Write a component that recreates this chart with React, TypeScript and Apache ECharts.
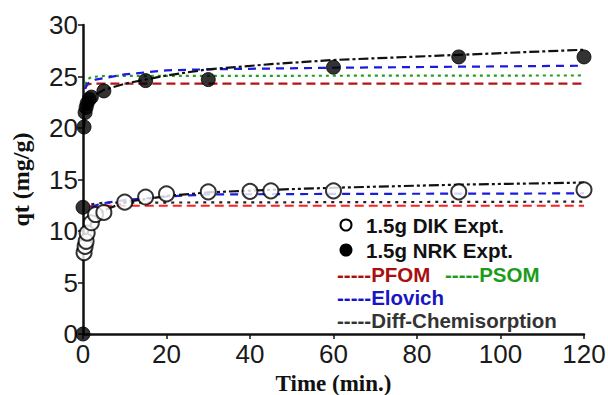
import React, { useEffect, useRef } from "react";
import * as echarts from "echarts";

const xTicks = [0, 20, 40, 60, 80, 100, 120];
const yTicks = [0, 5, 10, 15, 20, 25, 30];

// Experimental points [time (min), qt (mg/g)]
const dikExpt: number[][] = [
  [0.25, 7.9], [0.5, 8.5], [0.75, 9.0], [1, 9.8], [2, 10.8], [3, 11.6], [5, 11.8],
  [10, 12.8], [15, 13.3], [20, 13.6], [30, 13.8], [40, 13.85], [45, 13.9],
  [60, 13.9], [90, 13.8], [120, 14.0],
];
const nrkExpt: number[][] = [
  [0, 0], [0, 12.3], [0.25, 20.1], [0.5, 21.5], [0.75, 22.0], [1, 22.4], [1.5, 22.8],
  [2, 23.0], [5, 23.6], [15, 24.6], [30, 24.7], [60, 25.9], [90, 26.9], [120, 26.9],
];

// Model fits
const nrkPFOM: number[][] = [[0.5, 23.8], [1, 24.2], [2, 24.3], [120, 24.3]];
const nrkPSOM: number[][] = [[0.5, 24.2], [1, 24.7], [2, 24.95], [5, 25.05], [120, 25.1]];
const nrkElovich: number[][] = [
  [0.5, 23.8], [1, 24.3], [3, 24.7], [10, 25.2], [20, 25.6], [30, 25.7],
  [60, 25.85], [90, 25.95], [120, 26.05],
];
const nrkDiff: number[][] = [
  [0.25, 20.0], [0.5, 21.6], [1, 22.4], [2, 23.0], [5, 23.7], [10, 24.3], [20, 25.1],
  [30, 25.7], [45, 26.2], [60, 26.6], [90, 27.1], [120, 27.6],
];
const dikPFOM: number[][] = [[1.5, 12.3], [2, 12.45], [120, 12.45]];
const dikPSOM: number[][] = [[2, 12.6], [5, 12.75], [120, 12.85]];
const dikElovich: number[][] = [
  [2, 12.3], [4, 12.65], [10, 13.0], [20, 13.35], [30, 13.55], [60, 13.6], [120, 13.65],
];
const dikDiff: number[][] = [
  [0.25, 8.0], [0.5, 8.8], [1, 9.7], [2, 10.8], [3, 11.4], [5, 12.0], [10, 12.8],
  [20, 13.4], [30, 13.75], [45, 14.0], [60, 14.2], [90, 14.5], [120, 14.7],
];

const legendFont = "bold 20.5px 'Liberation Sans', Arial, sans-serif";
const tickFont = "'Liberation Sans', Arial, sans-serif";
const titleFont = "'Liberation Serif', 'Times New Roman', serif";

export default function App() {
  const ref = useRef<HTMLDivElement>(null);
  useEffect(() => {
    if (!ref.current) return;
    const chart = echarts.init(ref.current, null, { renderer: "svg" });
    const line = (data: number[][], color: string, dash: number[], width = 2.2, z = 2) => ({
      type: "line",
      data,
      showSymbol: false,
      symbol: "none",
      smooth: false,
      z,
      lineStyle: { color, width, type: dash },
      silent: true,
    });
    chart.setOption({
      animation: false,
      grid: { left: 83, right: 24, top: 25, bottom: 61, containLabel: false, outerBoundsMode: "none" },
      xAxis: {
        type: "value",
        min: 0,
        max: 120,
        interval: 20,
        name: "Time (min.)",
        nameLocation: "middle",
        nameGap: 33,
        nameTextStyle: { fontFamily: titleFont, fontWeight: "bold", fontSize: 23, color: "#111" },
        axisLine: { lineStyle: { color: "#111", width: 2.5 } },
        axisTick: { show: true, length: 5, lineStyle: { color: "#111", width: 1.5 } },
        axisLabel: { fontFamily: tickFont, fontSize: 26, color: "#1a1a1a", margin: 7 },
        splitLine: { show: false },
      },
      yAxis: {
        type: "value",
        min: 0,
        max: 30,
        interval: 5,
        name: "qt (mg/g)",
        nameLocation: "middle",
        nameGap: 50,
        nameTextStyle: { fontFamily: titleFont, fontWeight: "bold", fontSize: 24, color: "#111" },
        axisLine: { lineStyle: { color: "#111", width: 2.5 } },
        axisTick: { show: true, length: 5, lineStyle: { color: "#111", width: 1.5 } },
        axisLabel: { fontFamily: tickFont, fontSize: 26, color: "#1a1a1a", margin: 5 },
        splitLine: { show: false },
      },
      series: [
        line(nrkPFOM, "#b41414", [9, 5]),
        line(nrkPSOM, "#22a022", [3, 4]),
        line(nrkElovich, "#1a1ae0", [8, 6]),
        line(nrkDiff, "#111", [10, 3, 3, 3]),
        line(dikPFOM, "#ff2020", [9, 5]),
        line(dikPSOM, "#222", [3, 5]),
        line(dikElovich, "#1a1ae0", [8, 6]),
        line(dikDiff, "#111", [10, 3, 3, 3, 3, 3]),
        {
          type: "scatter",
          data: nrkExpt,
          symbol: "circle",
          symbolSize: 14,
          z: 5,
          itemStyle: { color: "#000", borderColor: "#000", borderWidth: 1 },
        },
        {
          type: "scatter",
          data: dikExpt,
          symbol: "circle",
          symbolSize: 15,
          z: 6,
          itemStyle: { color: "#fff", borderColor: "#000", borderWidth: 2 },
        },
      ],
      graphic: [
        { type: "circle", shape: { cx: 346, cy: 225, r: 5.5 }, style: { fill: "#fff", stroke: "#000", lineWidth: 2 } },
        { type: "text", x: 366, y: 225, style: { text: "1.5g DIK Expt.", font: legendFont, fill: "#111", verticalAlign: "middle" } },
        { type: "circle", shape: { cx: 346, cy: 250, r: 6.5 }, style: { fill: "#000" } },
        { type: "text", x: 366, y: 250, style: { text: "1.5g NRK Expt.", font: legendFont, fill: "#111", verticalAlign: "middle" } },
        { type: "text", x: 337, y: 274, style: { text: "-----PFOM", font: legendFont, fill: "#a81010", verticalAlign: "middle" } },
        { type: "text", x: 445, y: 274, style: { text: "-----PSOM", font: legendFont, fill: "#1c9c1c", verticalAlign: "middle" } },
        { type: "text", x: 337, y: 297, style: { text: "-----Elovich", font: legendFont, fill: "#1616c4", verticalAlign: "middle" } },
        { type: "text", x: 337, y: 320, style: { text: "-----Diff-Chemisorption", font: legendFont, fill: "#333", verticalAlign: "middle" } },
      ],
    });
    return () => chart.dispose();
  }, []);
  return <div ref={ref} style={{ position: "fixed", left: 0, top: 0, width: 608, height: 395, background: "#fff" }} />;
}
